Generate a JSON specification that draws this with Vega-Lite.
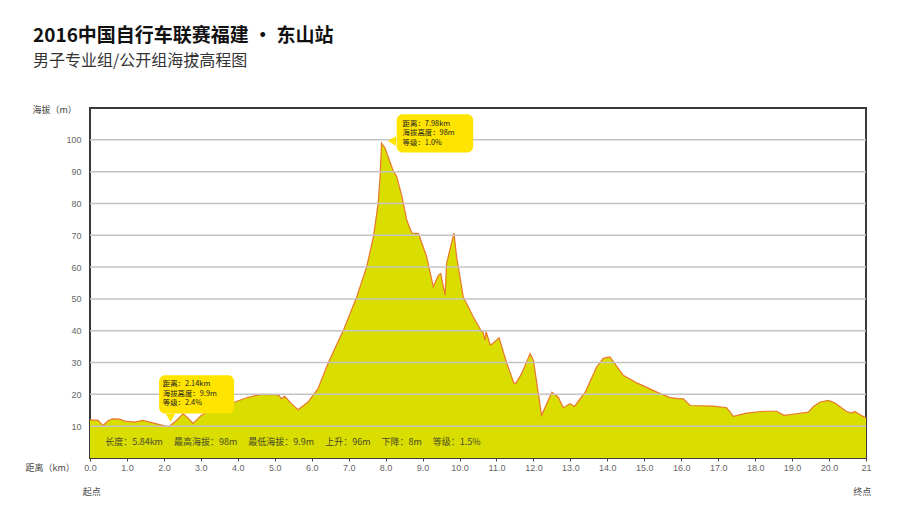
{
  "$schema": "https://vega.github.io/schema/vega-lite/v6.json",
  "autosize": "none",
  "width": 776,
  "height": 350,
  "padding": {"left": 90, "top": 108, "right": 34, "bottom": 53},
  "background": "white",
  "config": {
    "view": {"stroke": "#3a3a3a", "strokeWidth": 2},
    "font": "Noto Sans CJK SC",
    "axis": {"labelOverlap": false, "labelFlush": false, "labelBound": false}
  },
  "title": {
    "text": "2016中国自行车联赛福建 · 东山站",
    "subtitle": "男子专业组/公开组海拔高程图",
    "anchor": "start",
    "frame": "group",
    "dx": -57,
    "offset": 36,
    "font": "Noto Sans CJK SC",
    "fontSize": 19,
    "fontWeight": "bold",
    "color": "#111",
    "subtitleFont": "Noto Sans CJK SC",
    "subtitleFontSize": 16,
    "subtitleColor": "#333",
    "subtitlePadding": 7
  },
  "layer": [
    {
      "data": {"values": [
        {"km": 0.0, "alt": 12.0}, {"km": 0.22, "alt": 11.8}, {"km": 0.35, "alt": 10.2}, {"km": 0.5, "alt": 11.8},
        {"km": 0.62, "alt": 12.3}, {"km": 0.8, "alt": 12.2}, {"km": 0.94, "alt": 11.6}, {"km": 1.21, "alt": 11.3},
        {"km": 1.43, "alt": 11.8}, {"km": 1.75, "alt": 10.9}, {"km": 2.0, "alt": 10.2}, {"km": 2.14, "alt": 9.9},
        {"km": 2.34, "alt": 11.8}, {"km": 2.52, "alt": 13.9}, {"km": 2.65, "alt": 12.6}, {"km": 2.79, "alt": 10.9},
        {"km": 3.01, "alt": 13.4}, {"km": 3.3, "alt": 15.3}, {"km": 3.6, "alt": 16.6}, {"km": 3.92, "alt": 17.6},
        {"km": 4.28, "alt": 19.1}, {"km": 4.64, "alt": 20.0}, {"km": 5.04, "alt": 19.9}, {"km": 5.12, "alt": 19.6},
        {"km": 5.18, "alt": 18.6}, {"km": 5.27, "alt": 19.4}, {"km": 5.45, "alt": 17.1}, {"km": 5.63, "alt": 15.2},
        {"km": 5.9, "alt": 17.6}, {"km": 6.17, "alt": 21.8}, {"km": 6.44, "alt": 29.7}, {"km": 6.86, "alt": 40.2},
        {"km": 7.22, "alt": 50.7}, {"km": 7.49, "alt": 60.2}, {"km": 7.67, "alt": 69.6}, {"km": 7.8, "alt": 80.2},
        {"km": 7.85, "alt": 88.5}, {"km": 7.89, "alt": 99.0}, {"km": 7.98, "alt": 97.5}, {"km": 8.21, "alt": 90.1},
        {"km": 8.3, "alt": 88.5}, {"km": 8.44, "alt": 82.2}, {"km": 8.57, "alt": 74.9}, {"km": 8.62, "alt": 73.3},
        {"km": 8.71, "alt": 70.7}, {"km": 8.89, "alt": 70.5}, {"km": 9.11, "alt": 63.3}, {"km": 9.29, "alt": 53.8},
        {"km": 9.43, "alt": 57.5}, {"km": 9.49, "alt": 58.0}, {"km": 9.61, "alt": 51.2}, {"km": 9.65, "alt": 61.2},
        {"km": 9.85, "alt": 70.7}, {"km": 9.92, "alt": 63.3}, {"km": 10.1, "alt": 50.7}, {"km": 10.37, "alt": 44.4},
        {"km": 10.6, "alt": 39.7}, {"km": 10.63, "alt": 40.0}, {"km": 10.69, "alt": 37.0}, {"km": 10.72, "alt": 39.7},
        {"km": 10.83, "alt": 35.5}, {"km": 10.9, "alt": 36.0}, {"km": 11.07, "alt": 37.8}, {"km": 11.28, "alt": 29.7},
        {"km": 11.47, "alt": 23.6}, {"km": 11.52, "alt": 23.4}, {"km": 11.68, "alt": 26.5}, {"km": 11.91, "alt": 32.8},
        {"km": 12.0, "alt": 30.7}, {"km": 12.22, "alt": 13.4}, {"km": 12.5, "alt": 20.7}, {"km": 12.67, "alt": 19.1},
        {"km": 12.81, "alt": 15.8}, {"km": 12.99, "alt": 17.1}, {"km": 13.11, "alt": 16.2}, {"km": 13.4, "alt": 20.7},
        {"km": 13.71, "alt": 28.6}, {"km": 13.89, "alt": 31.3}, {"km": 14.07, "alt": 31.8}, {"km": 14.43, "alt": 26.0},
        {"km": 14.8, "alt": 23.6}, {"km": 15.34, "alt": 20.7}, {"km": 15.7, "alt": 19.0}, {"km": 15.96, "alt": 18.6},
        {"km": 16.05, "alt": 18.7}, {"km": 16.24, "alt": 16.5}, {"km": 16.87, "alt": 16.3}, {"km": 17.23, "alt": 15.8},
        {"km": 17.41, "alt": 13.1}, {"km": 17.77, "alt": 14.1}, {"km": 18.22, "alt": 14.7}, {"km": 18.58, "alt": 14.7},
        {"km": 18.78, "alt": 13.4}, {"km": 19.12, "alt": 13.9}, {"km": 19.44, "alt": 14.4}, {"km": 19.58, "alt": 16.2},
        {"km": 19.76, "alt": 17.6}, {"km": 19.98, "alt": 18.1}, {"km": 20.16, "alt": 17.3}, {"km": 20.47, "alt": 14.6},
        {"km": 20.61, "alt": 14.1}, {"km": 20.69, "alt": 14.6}, {"km": 21.0, "alt": 12.6}
      ]},
      "mark": {"type": "area", "color": "#d9dd00", "opacity": 1, "line": {"color": "#e9782c", "strokeWidth": 1.2}},
      "encoding": {
        "x": {
          "field": "km", "type": "quantitative",
          "scale": {"domain": [0, 21], "nice": false, "zero": false},
          "axis": {
            "values": [0,1,2,3,4,5,6,7,8,9,10,11,12,13,14,15,16,17,18,19,20,21],
            "tickCount": 40,
            "labelExpr": "datum.value == 21 ? '21' : format(datum.value, '.1f')",
            "grid": false, "domain": false, "labelOverlap": false,
            "ticks": true, "tickSize": 3, "tickColor": "#444",
            "labelPadding": 2, "labelFont": "Liberation Sans", "labelFontSize": 9, "labelColor": "#666",
            "title": "距离（km）", "titleFont": "Noto Sans CJK SC", "titleFontSize": 9, "titleFontWeight": "normal",
            "titleColor": "#444", "titleAlign": "left", "titleAnchor": "start", "titleBaseline": "middle",
            "titleX": -65, "titleY": 9
          }
        },
        "y": {
          "field": "alt", "type": "quantitative",
          "scale": {"domain": [0, 110], "nice": false},
          "axis": {
            "values": [10,20,30,40,50,60,70,80,90,100],
            "tickCount": 20,
            "grid": false, "domain": false, "ticks": false, "labelOverlap": false,
            "labelPadding": 9, "labelFont": "Liberation Sans", "labelFontSize": 9, "labelColor": "#666",
            "title": "海拔（m）", "titleFont": "Noto Sans CJK SC", "titleFontSize": 9, "titleFontWeight": "normal",
            "titleColor": "#444", "titleAngle": 0, "titleAlign": "left", "titleBaseline": "middle",
            "titleX": -58, "titleY": 1
          }
        }
      }
    },
    {
      "data": {"values": [{"g": 10}, {"g": 20}, {"g": 30}, {"g": 40}, {"g": 50}, {"g": 60}, {"g": 70}, {"g": 80}, {"g": 90}, {"g": 100}]},
      "mark": {"type": "rule", "color": "#c4c4c4", "strokeWidth": 1.5},
      "encoding": {"y": {"field": "g", "type": "quantitative"}}
    },
    {
      "data": {"values": [{}]},
      "mark": {"type": "text", "text": "长度：5.84km　 最高海拔：98m　 最低海拔：9.9m　 上升：96m　 下降：8m　 等级：1.5%",
        "align": "left", "baseline": "middle", "fontSize": 9, "color": "#4a4a2a", "font": "Noto Sans CJK SC"},
      "encoding": {"x": {"datum": 0.41}, "y": {"datum": 4.9}}
    },
    {
      "data": {"values": [{}]},
      "mark": {"type": "rect", "color": "#ffe400", "opacity": 1, "cornerRadius": 6},
      "encoding": {"x": {"datum": 8.3}, "x2": {"datum": 10.37}, "y": {"datum": 108}, "y2": {"datum": 96}}
    },
    {
      "data": {"values": [{}]},
      "mark": {"type": "point", "shape": "triangle-left", "filled": true, "color": "#ffe400", "opacity": 1, "size": 90},
      "encoding": {"x": {"datum": 8.17}, "y": {"datum": 99.6}}
    },
    {
      "data": {"values": [{}]},
      "mark": {"type": "text", "text": ["距离：7.98km", "海拔高度：98m", "等级：1.0%"], "lineHeight": 9.7,
        "align": "left", "baseline": "top", "fontSize": 7.4, "color": "#222", "font": "Noto Sans CJK SC"},
      "encoding": {"x": {"datum": 8.46}, "y": {"datum": 106.3}}
    },
    {
      "data": {"values": [{}]},
      "mark": {"type": "rect", "color": "#ffe400", "opacity": 1, "cornerRadius": 6},
      "encoding": {"x": {"datum": 1.87}, "x2": {"datum": 3.9}, "y": {"datum": 26.0}, "y2": {"datum": 14.0}}
    },
    {
      "data": {"values": [{}]},
      "mark": {"type": "point", "shape": "triangle-down", "filled": true, "color": "#ffe400", "opacity": 1, "size": 90},
      "encoding": {"x": {"datum": 2.18}, "y": {"datum": 12.6}}
    },
    {
      "data": {"values": [{}]},
      "mark": {"type": "text", "text": ["距离：2.14km", "海拔高度：9.9m", "等级：2.4%"], "lineHeight": 9.5,
        "align": "left", "baseline": "top", "fontSize": 7.4, "color": "#222", "font": "Noto Sans CJK SC"},
      "encoding": {"x": {"datum": 1.97}, "y": {"datum": 24.4}}
    },
    {
      "data": {"values": [{}]},
      "mark": {"type": "text", "text": "起点", "align": "center", "baseline": "middle", "fontSize": 9, "color": "#444", "font": "Noto Sans CJK SC"},
      "encoding": {"x": {"datum": 0.05}, "y": {"datum": -10.6}}
    },
    {
      "data": {"values": [{}]},
      "mark": {"type": "text", "text": "终点", "align": "center", "baseline": "middle", "fontSize": 9, "color": "#444", "font": "Noto Sans CJK SC"},
      "encoding": {"x": {"datum": 20.9}, "y": {"datum": -10.6}}
    }
  ]
}
